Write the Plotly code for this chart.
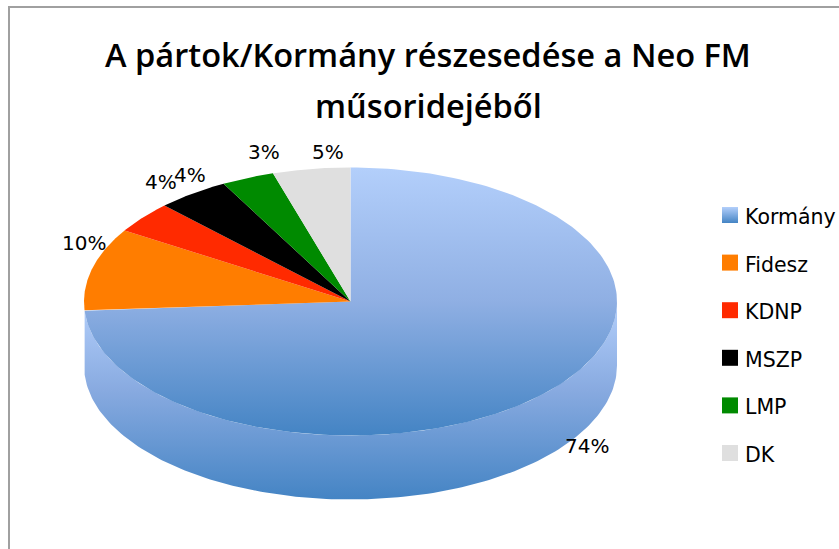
import numpy as np
import plotly.graph_objects as go

categories = ["Kormány", "Fidesz", "KDNP", "MSZP", "LMP", "DK"]
values = [73.9, 10.0, 3.8, 4.4, 3.2, 4.7]
colors = ["#8fb0e4", "#ff7d00", "#ff2a00", "#000000", "#008a00", "#dfdfdf"]
title_lines = ["A pártok/Kormány részesedése a Neo FM", "műsoridejéből"]
label_shifts = [(42, 53), (-8, -26), (18, -35), (-3, -19), (16, -26), (17, -17)]

W, H = 839, 549
CX, CY, RX, RY, DEPTH = 350.5, 301.5, 266.5, 134, 64
FONT = "DejaVu Sans"
top_scale = [[0, "#b3cffb"], [0.5, "#8fafe3"], [1, "#4484c4"]]
wall_scale = [[0, "#b3cffb"], [0.45, "#88aae0"], [1, "#4484c4"]]


def rim(turn, dy=0.0):
    a = 2 * np.pi * np.asarray(turn)
    return CX + RX * np.sin(a), CY - RY * np.cos(a) + dy


fig = go.Figure()
edges = np.concatenate([[0], np.cumsum(values)]) / sum(values)

# side wall of the first slice (visible part only)
t = np.linspace(0.25, edges[1], 160)
xb, yb = rim(t, DEPTH)
xt, yt = rim(t[::-1])
fig.add_trace(go.Scatter(
    x=np.concatenate([xb, xt]), y=np.concatenate([yb, yt]),
    mode="lines", line=dict(width=0), fill="toself",
    fillgradient=dict(type="vertical", colorscale=wall_scale, start=CY, stop=CY + RY + DEPTH),
    hoverinfo="skip", showlegend=False))

# top faces
for i, name in enumerate(categories):
    t = np.linspace(edges[i], edges[i + 1], 200)
    x, y = rim(t)
    kw = dict(fillcolor=colors[i])
    if i == 0:
        kw = dict(fillgradient=dict(type="vertical", colorscale=top_scale, start=CY - RY, stop=CY + RY))
    fig.add_trace(go.Scatter(
        x=np.concatenate([[CX], x, [CX]]), y=np.concatenate([[CY], y, [CY]]),
        mode="lines", line=dict(width=0), fill="toself", name=name,
        showlegend=False, **kw))

# key
key_y = [215 + 47.6 * i for i in range(len(categories))]
fig.add_trace(go.Scatter(
    x=[730] * len(categories), y=key_y, mode="markers",
    marker=dict(symbol="square", size=16, color=["#b3cffb"] + colors[1:], line=dict(width=0),
                gradient=dict(type="vertical", color=["#4484c4"] + colors[1:])),
    cliponaxis=False, hoverinfo="skip", showlegend=False))

annotations = []
for name, ky in zip(categories, key_y):
    annotations.append(dict(
        x=745, y=ky, xref="x", yref="y", showarrow=False, text=name, xanchor="left",
        xshift=-2, yshift=-2, font=dict(family=FONT, size=20.5, color="#000000")))
for i, v in enumerate(values):
    mx, my = rim((edges[i] + edges[i + 1]) / 2)
    annotations.append(dict(
        x=float(mx), y=float(my), xref="x", yref="y", showarrow=False,
        text=f"{round(v)}%", xshift=label_shifts[i][0], yshift=-label_shifts[i][1],
        font=dict(family=FONT, size=20, color="#000000")))
for line, py in zip(title_lines, [54, 105]):
    annotations.append(dict(
        x=428, y=py, xref="x", yref="y", showarrow=False, text=line,
        font=dict(family="Open Sans", size=32.6, color="#000000", weight=600)))

fig.update_layout(
    width=W, height=H, margin=dict(l=0, r=0, t=0, b=0),
    paper_bgcolor="white", plot_bgcolor="white", showlegend=False,
    xaxis=dict(range=[0, W], visible=False, fixedrange=True),
    yaxis=dict(range=[H, 0], visible=False, fixedrange=True),
    annotations=annotations,
    shapes=[dict(type="rect", xref="x", yref="y", x0=9, y0=7, x1=W + 20, y1=H + 20,
                 line=dict(color="#a0a0a0", width=2), fillcolor="rgba(0,0,0,0)", layer="below")],
)
fig.write_html("out.html", config={"displayModeBar": False},
               post_script="document.body.style.margin='0';document.body.style.overflow='hidden';")
